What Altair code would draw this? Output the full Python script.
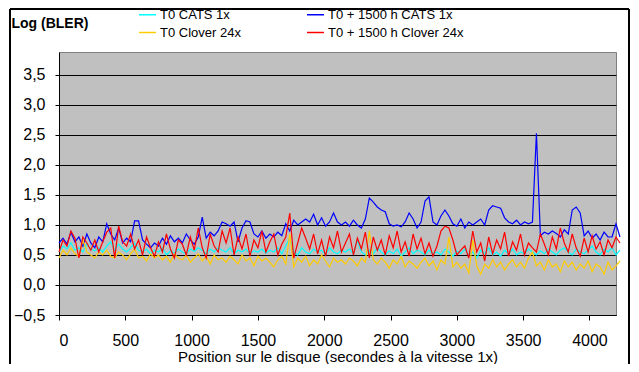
import altair as alt
import pandas as pd

STEP = 30  # seconds between samples
series_names = ["T0 CATS 1x", "T0 + 1500 h CATS 1x", "T0 Clover 24x", "T0 + 1500 h Clover 24x"]
# legend order (the legend grid fills column by column)
legend_order = ["T0 CATS 1x", "T0 Clover 24x", "T0 + 1500 h CATS 1x", "T0 + 1500 h Clover 24x"]
legend_colors = ["#00FFFF", "#FFCC00", "#0000FF", "#FF0000"]

cats_t0 = [
    0.55, 0.65, 0.60, 0.70, 0.58, 0.62, 0.55, 0.68, 0.60, 0.57, 0.62,
    0.55, 0.65, 0.72, 0.58, 0.68, 0.60, 0.55, 0.62, 0.70, 0.58,
    0.55, 0.60, 0.52, 0.58, 0.55, 0.62, 0.50, 0.57, 0.53, 0.60,
    0.55, 0.52, 0.60, 0.56, 0.62, 0.58, 0.52, 0.60, 0.55, 0.62,
    0.58, 0.55, 0.62, 0.52, 0.58, 0.55, 0.60, 0.52, 0.57, 0.55,
    0.60, 0.53, 0.58, 0.55, 0.62, 0.52, 0.65, 0.78, 0.55, 0.50,
    0.62, 0.55, 0.52, 0.60, 0.55, 0.58, 0.50, 0.62, 0.55, 0.52,
    0.58, 0.55, 0.60, 0.52, 0.75, 0.55, 0.50, 0.58, 0.52, 0.62,
    0.55, 0.50, 0.57, 0.52, 0.60, 0.48, 0.55, 0.62, 0.52, 0.58,
    0.55, 0.50, 0.58, 0.52, 0.55, 0.50, 0.60, 0.55, 0.48, 0.57,
    0.52, 0.60, 0.50, 0.55, 0.45, 0.58, 0.52, 0.62, 0.50, 0.55,
    0.48, 0.58, 0.52, 0.60, 0.50, 0.55, 0.52, 0.60, 0.55, 0.50,
    0.57, 0.52, 0.60, 0.55, 0.50, 0.58, 0.62, 0.55, 0.50, 0.60,
    0.55, 0.52, 0.58, 0.65, 0.55, 0.50, 0.60, 0.55, 0.62, 0.50,
    0.58,
]

cats_1500 = [
    0.70, 0.78, 0.68, 0.88, 0.72, 0.80, 0.65, 0.85, 0.70, 0.62, 0.80,
    0.72, 1.02, 0.85, 0.75, 0.95, 0.70, 0.78, 0.72, 1.07, 1.07,
    0.75, 0.68, 0.62, 0.70, 0.65, 0.78, 0.68, 0.82, 0.72, 0.78,
    0.70, 0.85, 0.75, 0.68, 0.80, 1.13, 0.78, 0.88, 0.82, 0.90,
    1.05, 1.02, 0.98, 1.05, 0.72, 0.95, 1.07, 1.05, 0.85, 0.80,
    0.90, 0.78, 0.85, 0.80, 0.88, 0.82, 1.02, 0.90, 1.08, 1.00,
    1.05, 1.10, 1.05, 1.18, 1.00, 1.12, 0.98, 1.05, 1.20, 1.05,
    1.00, 1.05, 0.98, 1.08, 1.00, 0.95, 1.10, 1.45, 1.38, 1.30,
    1.25, 1.22, 1.02, 0.98, 1.00, 0.97, 1.05, 1.20, 1.10, 0.95,
    1.05, 1.40, 1.47, 1.05, 1.00, 1.15, 1.25, 1.15, 1.02, 0.98,
    1.10, 0.95, 1.05, 1.00, 1.05, 1.10, 1.00, 1.25, 1.32, 1.30,
    1.28, 1.12, 1.05, 1.02, 1.08, 1.00, 1.05, 1.02, 1.05, 2.53,
    0.82, 0.88, 0.85, 0.90, 0.86, 0.80, 0.92, 0.85, 1.25, 1.30,
    1.20, 0.82, 0.90, 0.78, 0.85, 0.75, 0.88, 0.80, 0.80, 1.02,
    0.80,
]

clover_t0 = [
    0.45, 0.58, 0.50, 0.62, 0.52, 0.48, 0.75, 0.55, 0.50, 0.45, 0.55,
    0.50, 0.58, 0.48, 0.45, 0.55, 0.50, 0.42, 0.52, 0.60, 0.45,
    0.48, 0.40, 0.52, 0.45, 0.50, 0.42, 0.48, 0.38, 0.52, 0.45,
    0.42, 0.50, 0.38, 0.45, 0.52, 0.40, 0.48, 0.35, 0.50, 0.42,
    0.45, 0.38, 0.48, 0.42, 0.35, 0.50, 0.40, 0.45, 0.32, 0.48,
    0.40, 0.45, 0.38, 0.30, 0.42, 0.48, 0.35, 0.85, 0.30, 0.45,
    0.38, 0.48, 0.32, 0.42, 0.35, 0.50, 0.40, 0.30, 0.45, 0.38,
    0.42, 0.35, 0.45, 0.40, 0.32, 0.45, 0.38, 0.90, 0.42, 0.35,
    0.45, 0.38, 0.28, 0.42, 0.35, 0.48, 0.30, 0.40, 0.35, 0.28,
    0.38, 0.45, 0.32, 0.40, 0.25, 0.42, 0.35, 0.80, 0.30, 0.38,
    0.28, 0.35, 0.20, 0.75, 0.32, 0.18, 0.35, 0.28, 0.42, 0.30,
    0.38, 0.25, 0.35, 0.42, 0.30, 0.38, 0.28, 0.45, 0.55, 0.32,
    0.38, 0.25, 0.42, 0.30, 0.35, 0.22, 0.40, 0.30, 0.38, 0.25,
    0.35, 0.28, 0.40, 0.22, 0.35, 0.30, 0.18, 0.38, 0.25, 0.32,
    0.40,
]

clover_1500 = [
    0.55, 0.75, 0.65, 0.90, 0.78, 0.45, 0.80, 0.70, 0.58, 0.75, 0.55,
    0.72, 0.88, 0.95, 0.45, 0.98, 0.72, 0.65, 0.85, 0.60, 0.75,
    0.50, 0.80, 0.62, 0.48, 0.72, 0.55, 0.85, 0.60, 0.45, 0.75,
    0.68, 0.50, 0.80, 0.58, 0.95, 0.62, 0.45, 0.85, 0.65, 0.55,
    0.90, 0.70, 0.95, 0.50, 0.80, 0.60, 0.85, 0.48, 0.75, 0.62,
    0.90, 0.55, 0.72, 0.85, 0.50, 0.68, 0.80, 1.20, 0.45, 0.70,
    0.95, 0.78, 0.60, 0.85, 0.52, 0.75, 0.48, 0.80, 0.62, 0.90,
    0.55, 0.70, 0.85, 0.50, 0.78, 0.60, 0.88, 0.45, 0.80, 0.58,
    0.75, 0.50, 0.82, 0.62, 0.90, 0.55, 0.72, 0.48, 0.85, 0.60,
    0.78, 0.52, 0.70, 0.48, 0.65, 0.90, 0.98, 0.95, 0.75, 0.50,
    0.58, 0.65, 0.45, 0.90, 0.55, 0.70, 0.40, 0.80, 0.52, 0.75,
    0.60, 0.88, 0.48, 0.72, 0.58, 0.85, 0.50, 0.70, 0.62, 0.55,
    0.85, 0.68, 0.50, 0.80, 0.60, 0.95, 0.70, 0.55, 0.85, 0.62,
    0.48, 0.78, 0.55, 0.82, 0.60, 0.72, 0.50, 0.75, 0.62, 0.80,
    0.70,
]

all_series = [cats_t0, cats_1500, clover_t0, clover_1500]
rows = []
for name, vals in zip(series_names, all_series):
    for i, v in enumerate(vals):
        rows.append({"t": i * STEP, "v": v, "s": name})
df = pd.DataFrame(rows)

FONT = "Liberation Sans"

lines = alt.Chart(df).mark_line(strokeWidth=1.2).encode(
    x=alt.X("t:Q",
            scale=alt.Scale(domain=[0, 4200], nice=False, zero=False),
            axis=alt.Axis(title="Position sur le disque (secondes à la vitesse 1x)",
                          values=[0, 500, 1000, 1500, 2000, 2500, 3000, 3500, 4000],
                          format="d", grid=False, tickSize=5, labelPadding=12,
                          titlePadding=1, domainColor="black", tickColor="black",
                          labelFontSize=16, titleFontSize=15, titleFontWeight="normal",
                          labelColor="black", titleColor="black", labelFont=FONT,
                          titleFont=FONT)),
    y=alt.Y("v:Q",
            scale=alt.Scale(domain=[-0.5, 3.883], nice=False, zero=False),
            axis=alt.Axis(title="Log (BLER)",
                          values=[-0.5, 0, 0.5, 1, 1.5, 2, 2.5, 3, 3.5],
                          labelExpr="replace(format(datum.value, '.1f'), '.', ',')",
                          grid=True, gridColor="black", gridWidth=1, gridOpacity=1,
                          tickSize=4, labelPadding=10, domainColor="black",
                          tickColor="black", labelFontSize=16, labelColor="black",
                          labelFont=FONT, titleFont=FONT, titleFontSize=14,
                          titleFontWeight="bold", titleColor="black", titleAngle=0,
                          titleAlign="left", titleBaseline="middle",
                          titleX=-48, titleY=-29)),
    color=alt.Color("s:N",
                    scale=alt.Scale(domain=legend_order, range=legend_colors),
                    legend=alt.Legend(title=None, orient="none", legendX=79, legendY=-47,
                                      columns=2, symbolType="stroke", symbolSize=289,
                                      symbolStrokeWidth=1.5, labelFontSize=13,
                                      labelFont=FONT, labelColor="black", labelOffset=3,
                                      columnPadding=63, rowPadding=1)),
    order=alt.value(0),
)

frame = alt.Chart(df).mark_rect(fill=None, stroke="black", strokeWidth=1).encode(
    x=alt.value(-49), x2=alt.value(570), y=alt.value(-43), y2=alt.value(330)
)

chart = alt.layer(lines, frame).properties(
    width=557, height=263,
    autosize=alt.AutoSizeParams(type="none"),
    padding={"left": 51, "top": 44, "right": 15, "bottom": 49},
).configure_view(
    fill="#C0C0C0", stroke="#808080", strokeWidth=1
)

chart.save("out.html", embed_options={"renderer": "svg", "actions": False})
